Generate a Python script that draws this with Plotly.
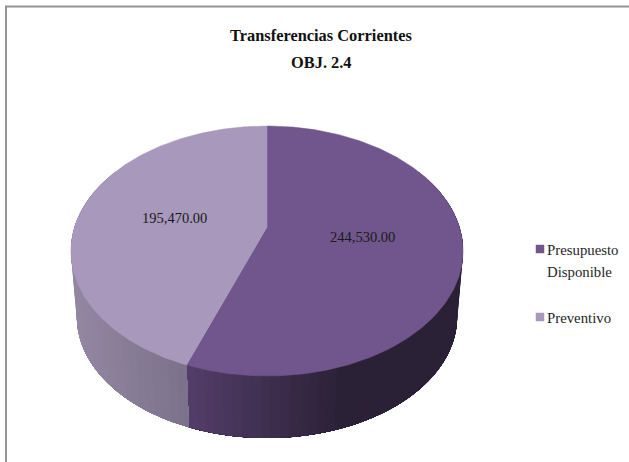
import numpy as np
import plotly.graph_objects as go

title_lines = ["Transferencias Corrientes", "OBJ. 2.4"]
categories = [["Presupuesto", "Disponible"], ["Preventivo"]]
values = [244530.00, 195470.00]
value_labels = ["244,530.00", "195,470.00"]
top_colors = ["#70568D", "#A898BC"]
legend_y = [249, 317]
label_xy = [(362.5, 237), (174, 218)]

# pie geometry in pixels of the page, K is the perspective of the tilted disc
W, H = 629, 462
CX, CY, A, B, K = 267, 227, 192.4, 120.4, 0.192
BOTTOM_SCALE, BOTTOM_CY = 0.97, 293.5
FONT = "Liberation Serif"


def disc(a, scale=1.0, cy=CY):
    # angle clockwise from 12 o'clock
    u, v = np.sin(a), -np.cos(a)
    d = 1 - K * v
    return CX + scale * A * u / d, cy + scale * B * v / d


def side_color(x, slice_i):
    # shading of the wall goes by position across the pie
    t = (x - 71) / 392
    if slice_i == 1:
        c0, c1 = np.array([147, 135, 163]), np.array([122, 112, 136])
        s = min(max(t / 0.30, 0), 1)
    else:
        c0, c1 = np.array([84, 62, 106]), np.array([43, 33, 55])
        s = min(max((t - 0.30) / 0.40, 0), 1)
    r, g, b = c0 + (c1 - c0) * s
    return f"rgb({r:.0f},{g:.0f},{b:.0f})"


fractions = np.array(values) / sum(values)
split = 2 * np.pi * fractions[0]

fig = go.Figure()

# side wall, painted band over band so no seams show between the bands
wall_ranges = [(np.radians(60), split), (split, np.radians(300))]
for idx, (lo, hi) in enumerate(wall_ranges):
    if idx == 0:
        bands = np.linspace(lo, hi, 60, endpoint=False)
    else:
        bands = np.linspace(hi, lo, 40, endpoint=False)
    for a0 in bands:
        aa = np.linspace(a0, hi if idx == 0 else lo, 40)
        x, y = disc(aa)
        xb, yb = disc(aa, BOTTOM_SCALE, BOTTOM_CY)
        col = side_color(x[0], idx)
        fig.add_trace(go.Scatter(x=np.r_[x, xb[::-1]], y=np.r_[y, yb[::-1]], mode="lines", fill="toself",
                                 fillcolor=col, line=dict(width=0),
                                 hoverinfo="skip", showlegend=False))

# top face slices
starts = [0, split]
ends = [split, 2 * np.pi]
for i in range(2):
    aa = np.linspace(starts[i], ends[i], 240)
    x, y = disc(aa)
    fig.add_trace(go.Scatter(x=np.r_[CX, x, CX], y=np.r_[CY, y, CY], mode="lines", fill="toself",
                             fillcolor=top_colors[i], line=dict(width=0.5, color=top_colors[i]),
                             hoverinfo="skip", showlegend=False))

# value labels
for i in range(2):
    fig.add_annotation(x=label_xy[i][0], y=label_xy[i][1], text=value_labels[i], showarrow=False,
                       font=dict(family=FONT, size=14.5, color="#1A1A1A"))

# legend, 22 px between lines
for i in range(2):
    fig.add_trace(go.Scatter(x=[540], y=[legend_y[i]], mode="markers",
                             marker=dict(symbol="square", size=8.5, color=top_colors[i]),
                             hoverinfo="skip", showlegend=False))
    for j, line in enumerate(categories[i]):
        fig.add_annotation(x=547, y=legend_y[i] + 1 + 22 * j, text=line, showarrow=False, xanchor="left",
                           xshift=-2, font=dict(family=FONT, size=14.8, color="#262626"))

# title, 27 px between lines
for j, line in enumerate(title_lines):
    fig.add_annotation(x=321, y=35 + 27 * j, text="<b>" + line + "</b>", showarrow=False,
                       font=dict(family=FONT, size=16.4, color="#111111"))

# chart frame, only its top and left edges are on the page
fig.add_shape(type="rect", x0=6, y0=6.5, x1=660, y1=500, line=dict(color="#949494", width=2))

fig.update_xaxes(range=[0, W], visible=False, fixedrange=True)
fig.update_yaxes(range=[H, 0], visible=False, fixedrange=True)
fig.update_layout(width=W, height=H, margin=dict(l=0, r=0, t=0, b=0), showlegend=False,
                  paper_bgcolor="white", plot_bgcolor="white")

fig.write_html("out.html", config=dict(displayModeBar=False),
               post_script="document.body.style.margin='0';document.body.style.overflow='hidden';")
